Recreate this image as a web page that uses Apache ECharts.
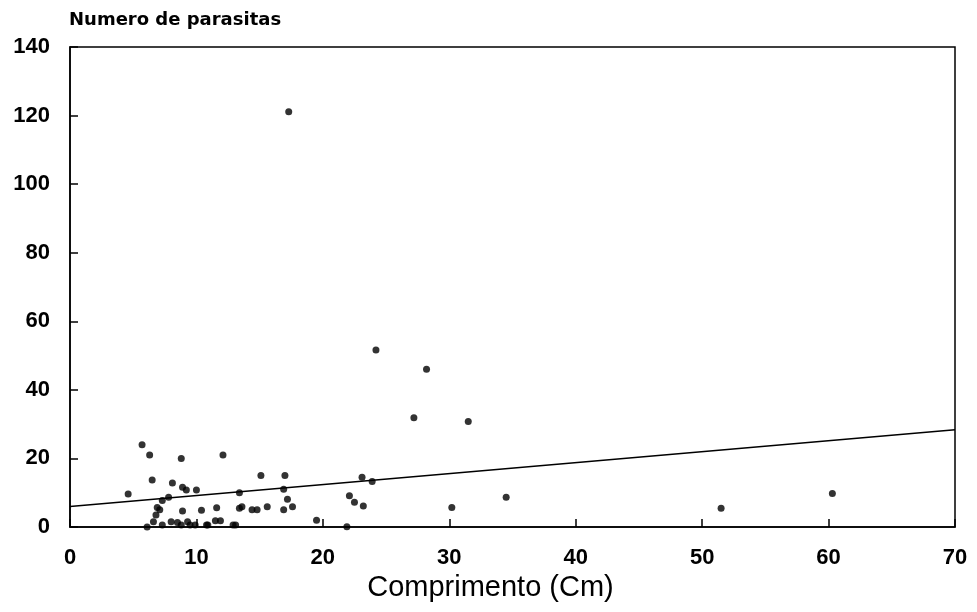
<!DOCTYPE html>
<html>
<head>
<meta charset="utf-8">
<script src="https://cdn.jsdelivr.net/npm/echarts@6/dist/echarts.min.js"></script>
<style>
html,body{margin:0;padding:0;background:#fff;}
#chart{width:977px;height:612px;}
</style>
</head>
<body>
<div id="chart"></div>
<script>
// Comprimento (cm) of each fish
const comprimento = [
  5.7, 6.3, 8.8, 12.1, 15.1, 17.0, 4.6, 6.5, 8.1, 8.9, 9.2, 10.0, 13.4,
  7.3, 7.8, 6.9, 7.1, 6.8, 8.9, 10.4, 11.6, 13.4, 13.6, 14.4, 14.8,
  6.6, 7.3, 8.0, 8.5, 8.8, 9.3, 9.5, 9.9, 10.8, 11.5, 11.9, 12.9, 13.1, 6.1,
  16.9, 23.1, 23.9, 17.2, 17.6, 16.9, 15.6, 10.9, 19.5, 21.9, 22.1, 22.5, 23.2,
  24.2, 28.2, 27.2, 31.5, 17.3,
  30.2, 34.5, 51.5, 60.3
];
// Numero de parasitas of each fish
const parasitas = [
  24, 21, 20, 21, 15, 15, 9.6, 13.7, 12.8, 11.6, 10.8, 10.8, 10.0,
  7.7, 8.7, 5.7, 5.0, 3.5, 4.7, 4.9, 5.6, 5.5, 5.9, 5.0, 5.0,
  1.5, 0.6, 1.5, 1.3, 0.6, 1.5, 0.6, 0.6, 0.6, 1.8, 1.8, 0.6, 0.6, 0,
  11.0, 14.5, 13.3, 8.1, 5.9, 5.0, 5.9, 0.6, 2.0, 0.1, 9.1, 7.2, 6.1,
  51.6, 46.0, 31.9, 30.8, 121.1,
  5.7, 8.7, 5.5, 9.8
];
// Fitted regression line endpoints
const retaX = [0, 70];
const retaY = [6.0, 28.4];
// Tick labels
const xTicks = [0, 10, 20, 30, 40, 50, 60, 70];
const yTicks = [0, 20, 40, 60, 80, 100, 120, 140];

const pontos = comprimento.map((c, i) => [c, parasitas[i]]);
const reta = retaX.map((x, i) => [x, retaY[i]]);

const chart = echarts.init(document.getElementById('chart'), null, {renderer: 'canvas'});
const labelFont = {color: '#000', fontFamily: 'Liberation Sans, Arial, sans-serif', fontWeight: 'bold', fontSize: 22};
chart.setOption({
  backgroundColor: '#fff',
  animation: false,
  title: {
    text: 'Numero de parasitas',
    left: 64, top: 6,
    textStyle: {color: '#000', fontFamily: 'DejaVu Sans, sans-serif', fontWeight: 'bold', fontSize: 18}
  },
  grid: {left: 70, right: 22, top: 47, bottom: 85, show: true, borderColor: '#000', borderWidth: 1.5, backgroundColor: 'transparent'},
  xAxis: {
    type: 'value', min: xTicks[0], max: xTicks[xTicks.length - 1], interval: 10,
    name: 'Comprimento (Cm)', nameLocation: 'middle', nameGap: 46,
    nameTextStyle: {color: '#000', fontFamily: 'Liberation Sans, Arial, sans-serif', fontSize: 29, padding: [0, 44, 0, 0]},
    axisLine: {show: true, lineStyle: {color: '#000', width: 1.5}},
    axisTick: {show: true, inside: true, length: 8, lineStyle: {color: '#000', width: 1.5}},
    axisLabel: Object.assign({margin: 20}, labelFont),
    splitLine: {show: false}
  },
  yAxis: {
    type: 'value', min: yTicks[0], max: yTicks[yTicks.length - 1], interval: 20,
    axisLine: {show: true, lineStyle: {color: '#000', width: 1.5}},
    axisTick: {show: true, inside: true, length: 8, lineStyle: {color: '#000', width: 1.5}},
    axisLabel: Object.assign({margin: 20}, labelFont),
    splitLine: {show: false}
  },
  series: [
    {
      type: 'scatter', data: pontos, symbol: 'circle', symbolSize: 7,
      itemStyle: {color: '#000'}
    },
    {
      type: 'line', data: reta, symbol: 'none',
      lineStyle: {color: '#000', width: 1.5}
    }
  ]
});
</script>
</body>
</html>
